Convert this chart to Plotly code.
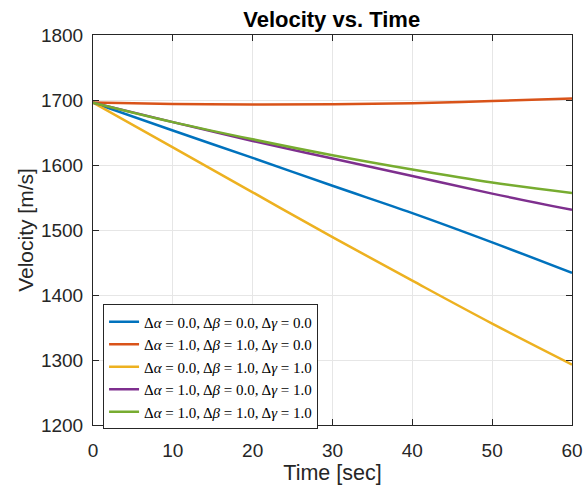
import plotly.graph_objects as go

time = [0, 10, 20, 30, 40, 50, 60]
v_000 = [1696, 1653, 1611, 1568, 1526, 1481, 1434]
v_110 = [1696, 1694, 1693, 1693.5, 1695, 1698.5, 1702.5]
v_011 = [1696, 1627, 1558, 1489, 1422, 1356, 1293]
v_101 = [1696, 1666, 1637, 1610, 1583, 1556, 1531]
v_111 = [1696, 1666, 1639.5, 1615, 1593, 1573, 1557]

names = [
    "Δ<i>α</i> = 0.0, Δ<i>β</i> = 0.0, Δ<i>γ</i> = 0.0",
    "Δ<i>α</i> = 1.0, Δ<i>β</i> = 1.0, Δ<i>γ</i> = 0.0",
    "Δ<i>α</i> = 0.0, Δ<i>β</i> = 1.0, Δ<i>γ</i> = 1.0",
    "Δ<i>α</i> = 1.0, Δ<i>β</i> = 0.0, Δ<i>γ</i> = 1.0",
    "Δ<i>α</i> = 1.0, Δ<i>β</i> = 1.0, Δ<i>γ</i> = 1.0",
]
series = [v_000, v_110, v_011, v_101, v_111]
colors = ["#0072BD", "#D95319", "#EDB120", "#7E2F8E", "#77AC30"]

fig = go.Figure()
for n, s, c in zip(names, series, colors):
    fig.add_trace(go.Scatter(x=time, y=s, name=n, mode="lines",
                             line=dict(color=c, width=2.5, shape="spline")))

axis_common = dict(showline=True, linecolor="#262626", linewidth=1, mirror="ticks",
                   ticks="inside", ticklen=6, tickcolor="#262626", automargin=False,
                   showgrid=True, gridcolor="#E6E6E6", gridwidth=1, zeroline=False,
                   tickfont=dict(family="Liberation Sans, Arial", size=19, color="#262626"))

fig.update_layout(
    width=586, height=487,
    margin=dict(l=93, r=14, t=35, b=62),
    paper_bgcolor="white", plot_bgcolor="white",
    title=dict(text="<b>Velocity vs. Time</b>", x=0.566, xanchor="center", y=0.961, yanchor="middle",
               font=dict(family="Liberation Sans, Arial", size=22, color="black")),
    xaxis=dict(range=[0, 60], tickvals=[0, 10, 20, 30, 40, 50, 60], ticklabelstandoff=8,
               title=dict(text="Time [sec]", font=dict(family="Liberation Sans, Arial", size=21.5, color="#262626"), standoff=4),
               **axis_common),
    yaxis=dict(range=[1200, 1800], tickvals=[1200, 1300, 1400, 1500, 1600, 1700, 1800], ticklabelstandoff=5,
               title=dict(text="Velocity [m/s]", font=dict(family="Liberation Sans, Arial", size=21, color="#262626"), standoff=1),
               **axis_common),
    legend=dict(x=0.021, y=0.309, xanchor="left", yanchor="top",
                bgcolor="white", bordercolor="#262626", borderwidth=1,
                font=dict(family="Liberation Serif, Times New Roman", size=15, color="black"),
                tracegroupgap=0, itemwidth=30),
    showlegend=True,
)

fig.write_html("out.html")
